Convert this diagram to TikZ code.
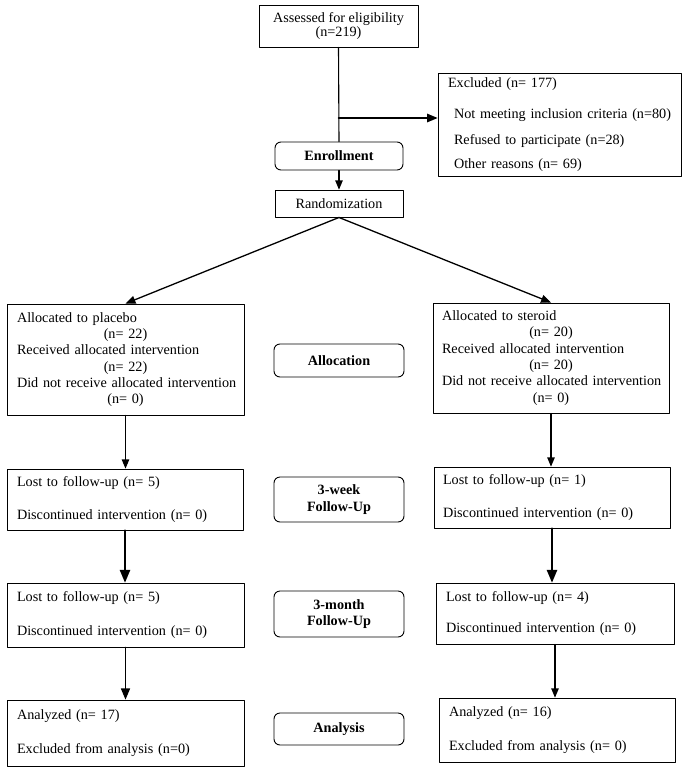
\documentclass[tikz,border=0pt]{standalone}
\usepackage{fontspec}
\setmainfont{Liberation Serif}
\usetikzlibrary{arrows}
\newcommand{\nval}[1]{\makebox[\linewidth]{#1}}

\begin{document}
\begin{tikzpicture}[line cap=round,line join=round,>=triangle 45,x=1pt,y=1pt,
		box/.style={draw,rectangle,line width=0.9pt,inner xsep=10pt,inner ysep=0pt,align=left,font=\fontsize{14.2}{16.3}\selectfont},
		stage/.style={draw,rectangle,rounded corners=6pt,line width=0.9pt,inner sep=0pt,align=center,minimum width=130pt,font=\fontsize{14.2}{16.3}\selectfont\bfseries},
		link/.style={->,line width=1.1pt}]
		\useasboundingbox (0,0) rectangle (688,-769);
		% enrollment
		\node[box,align=center,minimum width=159pt,minimum height=42pt,font=\fontsize{14.2}{13.5}\selectfont] (assess) at (338.5,-26) {Assessed for eligibility\\(n=219)};
		\node[box,text width=223pt,minimum height=103pt] (excl) at (559.5,-124.5) {Excluded (n= 177)\\[14.7pt]\hspace*{6pt}\mbox{Not meeting inclusion criteria (n=80)}\\[10.4pt]\hspace*{6pt}Refused to participate (n=28)\\[7.7pt]\hspace*{6pt}Other reasons (n= 69)};
		\node[stage,minimum width=128pt,minimum height=28pt] (enroll) at (339,-156) {Enrollment};
		\node[box,align=center,minimum width=128pt,minimum height=27pt] (random) at (339,-203.5) {Randomization};
		% allocation
		\node[box,text width=217pt,minimum height=111pt] (placebo) at (125.5,-359.5) {Allocated to placebo\\\nval{(n= 22)}\\Received allocated intervention\\\nval{(n= 22)}\\\mbox{Did not receive allocated intervention}\\\nval{(n= 0)}};
		\node[stage,minimum height=33pt] (alloc) at (339,-360.5) {Allocation};
		\node[box,inner xsep=9pt,text width=218pt,minimum height=110pt] (steroid) at (551,-358) {Allocated to steroid\\\nval{(n= 20)}\\Received allocated intervention\\\nval{(n= 20)}\\\mbox{Did not receive allocated intervention}\\\nval{(n= 0)}};
		% follow-up
		\node[box,text width=216pt,minimum height=61pt] (weekA) at (125,-499.5) {Lost to follow-up (n= 5)\\[17.5pt]Discontinued intervention (n= 0)};
		\node[stage,minimum height=45pt] (week) at (339,-499.5) {3-week\\Follow-Up};
		\node[box,inner xsep=9pt,text width=218pt,minimum height=61pt] (weekB) at (552,-497.5) {Lost to follow-up (n= 1)\\[17.5pt]Discontinued intervention (n= 0)};
		\node[box,text width=217pt,minimum height=64pt] (monthA) at (125.5,-615) {Lost to follow-up (n= 5)\\[17pt]Discontinued intervention (n= 0)};
		\node[stage,minimum height=46pt] (month) at (339,-614) {3-month\\Follow-Up};
		\node[box,text width=218pt,minimum height=61pt] (monthB) at (555,-613.5) {Lost to follow-up (n= 4)\\[14.7pt]Discontinued intervention (n= 0)};
		% analysis
		\node[box,text width=217pt,minimum height=66pt] (anaA) at (125.5,-733) {Analyzed (n= 17)\\[17.7pt]Excluded from analysis (n=0)};
		\node[stage,minimum height=32pt] (ana) at (339,-729) {Analysis};
		\node[box,text width=216pt,minimum height=64pt] (anaB) at (557,-730) {Analyzed (n= 16)\\[17.7pt]Excluded from analysis (n= 0)};
		% connectors
		\coordinate (split) at (assess.south |- 0,-118);
		\draw[line width=1.1pt] (assess.south) -- (enroll.north);
		\draw[link,line width=1.4pt] (split) -- (split -| excl.west);
		\draw[link] (enroll.south) -- (random.north);
		\draw[link,line width=1.3pt] (random.south) -- (placebo.north);
		\draw[link,line width=1.3pt] (random.south) -- (steroid.north);
		\draw[link] (placebo.south) -- (placebo.south |- weekA.north);
		\draw[link,line width=2pt] (weekA.south) -- (weekA.south |- monthA.north);
		\draw[link,line width=1.6pt] (monthA.south) -- (monthA.south |- anaA.north);
		\draw[link] (steroid.south) -- (steroid.south |- weekB.north);
		\draw[link,line width=2pt] (weekB.south) -- (weekB.south |- monthB.north);
		\draw[link] (monthB.south) -- (monthB.south |- anaB.north);
\end{tikzpicture}
\end{document}
